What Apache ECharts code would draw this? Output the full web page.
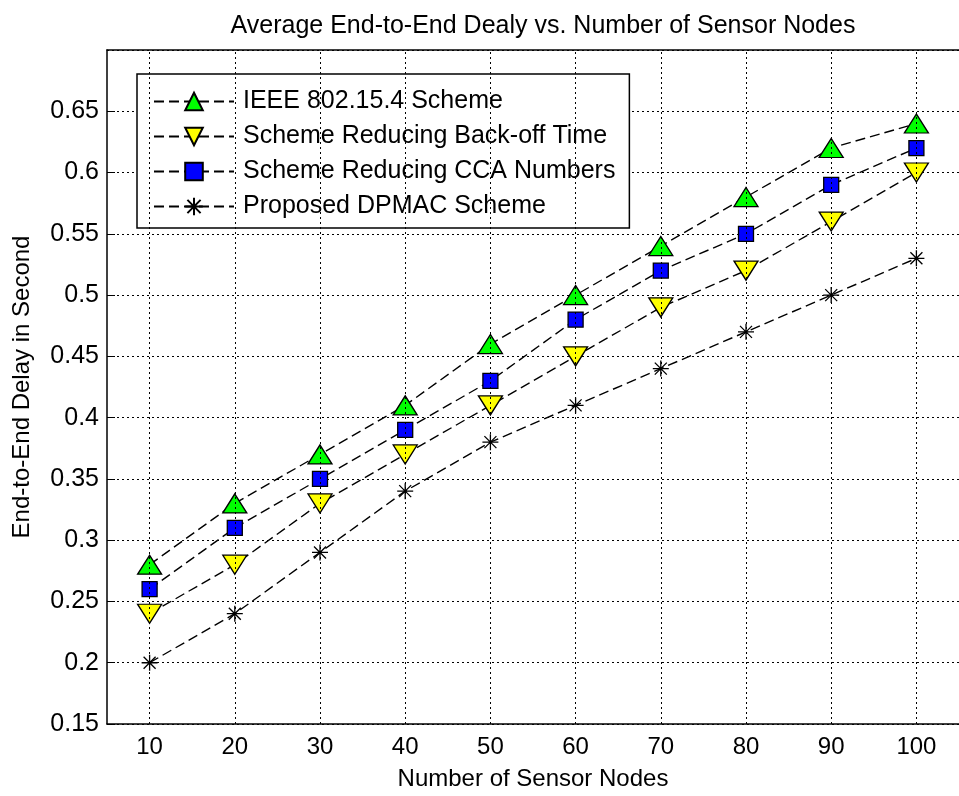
<!DOCTYPE html>
<html>
<head>
<meta charset="utf-8">
<script src="https://cdn.jsdelivr.net/npm/echarts@6/dist/echarts.min.js"></script>
<style>
  html, body { margin: 0; padding: 0; background: #fff; }
  #chart { width: 959px; height: 796px; }
</style>
</head>
<body>
<div id="chart"></div>
<script>
var nodes = ['10', '20', '30', '40', '50', '60', '70', '80', '90', '100'];
var ieee = [0.28, 0.33, 0.37, 0.41, 0.46, 0.50, 0.54, 0.58, 0.62, 0.64];
var backoff = [0.24, 0.28, 0.33, 0.37, 0.41, 0.45, 0.49, 0.52, 0.56, 0.60];
var cca = [0.26, 0.31, 0.35, 0.39, 0.43, 0.48, 0.52, 0.55, 0.59, 0.62];
var dpmac = [0.20, 0.24, 0.29, 0.34, 0.38, 0.41, 0.44, 0.47, 0.50, 0.53];
var names = ['IEEE 802.15.4 Scheme', 'Scheme Reducing Back-off Time',
             'Scheme Reducing CCA Numbers', 'Proposed DPMAC Scheme'];

var font = 'Liberation Sans, Arial, sans-serif';
var dash = [10, 5];

function mkSeries(name, data, symbol, size, fill) {
    return {
        name: name,
        type: 'line',
        data: data,
        symbol: symbol,
        symbolSize: size,
        showAllSymbol: true,
        smooth: false,
        z: 3,
        lineStyle: { color: '#000', width: 1.4, type: dash },
        itemStyle: { color: fill, borderColor: '#000', borderWidth: 1.3, opacity: 1 }
    };
}

var option = {
    animation: false,
    backgroundColor: '#fff',
    textStyle: { fontFamily: font },
    title: {
        text: 'Average End-to-End Dealy vs. Number of Sensor Nodes',
        left: 538,
        textAlign: 'center',
        top: 9,
        textStyle: { fontFamily: font, fontSize: 25, fontWeight: 'normal', color: '#000' }
    },
    legend: {
        data: names,
        orient: 'vertical',
        left: 137,
        top: 74,
        padding: [15, 14, 9, 16],
        itemWidth: 80,
        itemHeight: 22,
        itemGap: 10,
        backgroundColor: '#fff',
        borderColor: '#000',
        borderWidth: 1.5,
        borderRadius: 0,
        textStyle: { fontFamily: font, fontSize: 25, color: '#000', padding: [0, 0, 0, 4] }
    },
    grid: { left: 107, right: -6, top: 50, bottom: 70, containLabel: false },
    xAxis: [{
        type: 'category',
        data: nodes,
        boundaryGap: true,
        name: 'Number of Sensor Nodes',
        nameLocation: 'middle',
        nameGap: 43,
        nameTextStyle: { fontFamily: font, fontSize: 24, color: '#000' },
        axisLine: { lineStyle: { color: '#000', width: 1.5 } },
        axisTick: { inside: true, alignWithLabel: true, length: 8, lineStyle: { color: '#000' } },
        axisLabel: { fontFamily: font, fontSize: 24, color: '#000', margin: 11 },
        splitLine: { show: false }
    }, {
        type: 'category',
        data: nodes,
        position: 'top',
        boundaryGap: true,
        axisLine: { lineStyle: { color: '#000', width: 1.5 } },
        axisTick: { inside: true, alignWithLabel: true, length: 8, lineStyle: { color: '#000' } },
        axisLabel: { show: false },
        splitLine: { show: false }
    }],
    yAxis: {
        type: 'value',
        min: 0.15,
        max: 0.7,
        interval: 0.05,
        name: 'End-to-End Delay in Second',
        nameLocation: 'middle',
        nameGap: 73,
        nameTextStyle: { fontFamily: font, fontSize: 24, color: '#000' },
        axisLine: { show: true, lineStyle: { color: '#000', width: 1.5 } },
        axisTick: { show: true, inside: true, length: 8, lineStyle: { color: '#000' } },
        axisLabel: {
            fontFamily: font, fontSize: 25, color: '#000', margin: 8,
            showMaxLabel: false,
            formatter: function (v) { return String(Math.round(v * 100) / 100); }
        },
        splitLine: { lineStyle: { color: '#000', width: 1, type: [2, 3] } }
    },
    series: [
        {
            name: 'grid',
            type: 'line',
            data: [],
            z: 1,
            silent: true,
            markLine: {
                silent: true,
                symbol: 'none',
                label: { show: false },
                lineStyle: { color: '#000', width: 1, type: [2, 3] },
                data: nodes.map(function (n) { return { xAxis: n }; })
            }
        },
        mkSeries(names[0], ieee, 'triangle', [24, 19], '#00ff00'),
        mkSeries(names[1], backoff, 'path://M0,0L2,0L1,1.6Z', [24, 19], '#ffff00'),
        mkSeries(names[2], cca, 'rect', 15, '#0000ff'),
        mkSeries(names[3], dpmac,
            'path://M8,0L8,16M0,8L16,8M2,2L14,14M2,14L14,2', 16, 'none')
    ]
};

echarts.init(document.getElementById('chart')).setOption(option);
</script>
</body>
</html>
